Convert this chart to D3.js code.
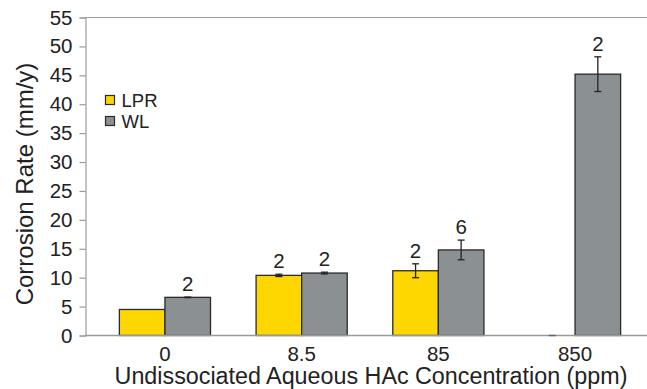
<!DOCTYPE html>
<html>
<head>
<meta charset="utf-8">
<script src="https://cdn.jsdelivr.net/npm/d3@7"></script>
<style>
  body { margin: 0; background: #fff; }
  text { font-family: "Liberation Sans", Arial, sans-serif; fill: #222; }
</style>
</head>
<body>
<svg width="647" height="389"></svg>
<script>
var categories = ["0", "8.5", "85", "850"];
var series = ["LPR", "WL"];
var lprValues = [4.5, 10.4, 11.2, 0];
var wlValues = [6.6, 10.8, 14.8, 45.2];
var lprErrors = [0, 0.2, 1.2, 0];
var wlErrors = [0.05, 0.15, 1.7, 3.0];
var lprCounts = ["", "2", "2", ""];
var wlCounts = ["2", "2", "6", "2"];
var yTicks = d3.range(0, 56, 5);

var colors = { LPR: "#ffd700", WL: "#8b9093" };

var svg = d3.select("svg");
var plotLeft = 85.5, plotTop = 17.5, plotBottom = 335.5, plotRight = 647;

var y = d3.scaleLinear().domain([0, 55]).range([plotBottom, plotTop]);
var x = d3.scaleBand().domain(categories)
    .range([96.6, 643.4]).paddingInner(1 / 3).paddingOuter(1 / 6);
var xs = d3.scaleBand().domain(series).range([0, x.bandwidth()]);

// frame line on top
svg.append("line").attr("x1", plotLeft).attr("x2", plotRight).attr("y1", plotTop).attr("y2", plotTop)
    .attr("stroke", "#9a9a9a").attr("stroke-width", 1.2);

var yAxis = svg.append("g")
    .attr("transform", "translate(" + plotLeft + ",0)")
    .call(d3.axisLeft(y).tickValues(yTicks).tickSize(6).tickPadding(7));
yAxis.select(".domain").attr("stroke", "#9a9a9a").attr("stroke-width", 1.2);
yAxis.selectAll(".tick line").attr("stroke", "#9a9a9a").attr("stroke-width", 1.2);
yAxis.selectAll("text").attr("font-size", 20.5).style("fill", "#222")
    .attr("font-family", "Liberation Sans, Arial, sans-serif");

var rows = categories.map(function(c, i) {
  return [
    { cat: c, key: "LPR", v: lprValues[i], e: lprErrors[i], n: lprCounts[i] },
    { cat: c, key: "WL", v: wlValues[i], e: wlErrors[i], n: wlCounts[i] }
  ];
});
var items = [].concat.apply([], rows);

var bars = svg.append("g");
bars.selectAll("rect")
    .data(items.filter(function(d) { return d.v > 0; }))
    .enter().append("rect")
    .attr("x", function(d) { return x(d.cat) + xs(d.key); })
    .attr("y", function(d) { return y(d.v); })
    .attr("width", xs.bandwidth())
    .attr("height", function(d) { return plotBottom - y(d.v); })
    .attr("fill", function(d) { return colors[d.key]; })
    .attr("stroke", "#2a2a2a")
    .attr("stroke-width", 1.3);

// x axis line on top of bars
svg.append("line").attr("x1", plotLeft).attr("x2", plotRight).attr("y1", plotBottom).attr("y2", plotBottom)
    .attr("stroke", "#9a9a9a").attr("stroke-width", 1.4);

// error bars
var err = svg.append("g").attr("stroke", "#222").attr("stroke-width", 1.3);
items.forEach(function(d) {
  var cx = x(d.cat) + xs(d.key) + xs.bandwidth() / 2;
  var y1 = y(d.v + d.e), y2 = y(d.v - d.e);
  if (d.v === 0) {
    err.append("line").attr("x1", cx - 3.5).attr("x2", cx + 3.5)
        .attr("y1", plotBottom).attr("y2", plotBottom).attr("stroke", "#666").attr("stroke-width", 1.5);
    return;
  }
  if (d.e === 0) return;
  err.append("line").attr("x1", cx).attr("x2", cx).attr("y1", y1).attr("y2", y2);
  err.append("line").attr("x1", cx - 3.5).attr("x2", cx + 3.5).attr("y1", y1).attr("y2", y1);
  err.append("line").attr("x1", cx - 3.5).attr("x2", cx + 3.5).attr("y1", y2).attr("y2", y2);
});

// counts
svg.append("g").selectAll("text")
    .data(items.filter(function(d) { return d.n !== ""; }))
    .enter().append("text")
    .attr("x", function(d) { return x(d.cat) + xs(d.key) + xs.bandwidth() / 2; })
    .attr("y", function(d) { return y(d.v + d.e) - 6; })
    .attr("text-anchor", "middle")
    .attr("font-size", 20.5)
    .text(function(d) { return d.n; });

// x tick labels
svg.append("g").selectAll("text")
    .data(categories)
    .enter().append("text")
    .attr("x", function(d) { return x(d) + x.bandwidth() / 2; })
    .attr("y", 361)
    .attr("text-anchor", "middle")
    .attr("font-size", 20.5)
    .text(function(d) { return d; });

// axis titles
svg.append("text")
    .attr("x", 371).attr("y", 384)
    .attr("text-anchor", "middle")
    .attr("font-size", 23.3)
    .text("Undissociated Aqueous HAc Concentration (ppm)");

svg.append("text")
    .attr("transform", "translate(33,184) rotate(-90)")
    .attr("text-anchor", "middle")
    .attr("font-size", 24)
    .text("Corrosion Rate (mm/y)");

// legend
var legend = svg.append("g").selectAll("g")
    .data(series)
    .enter().append("g")
    .attr("transform", function(d, i) { return "translate(105.5," + (95.5 + i * 21) + ")"; });
legend.append("rect")
    .attr("width", 9).attr("height", 9)
    .attr("fill", function(d) { return colors[d]; })
    .attr("stroke", "#2a2a2a").attr("stroke-width", 1.2);
legend.append("text")
    .attr("x", 16).attr("y", 11)
    .attr("font-size", 18.5)
    .text(function(d) { return d; });
</script>
</body>
</html>
